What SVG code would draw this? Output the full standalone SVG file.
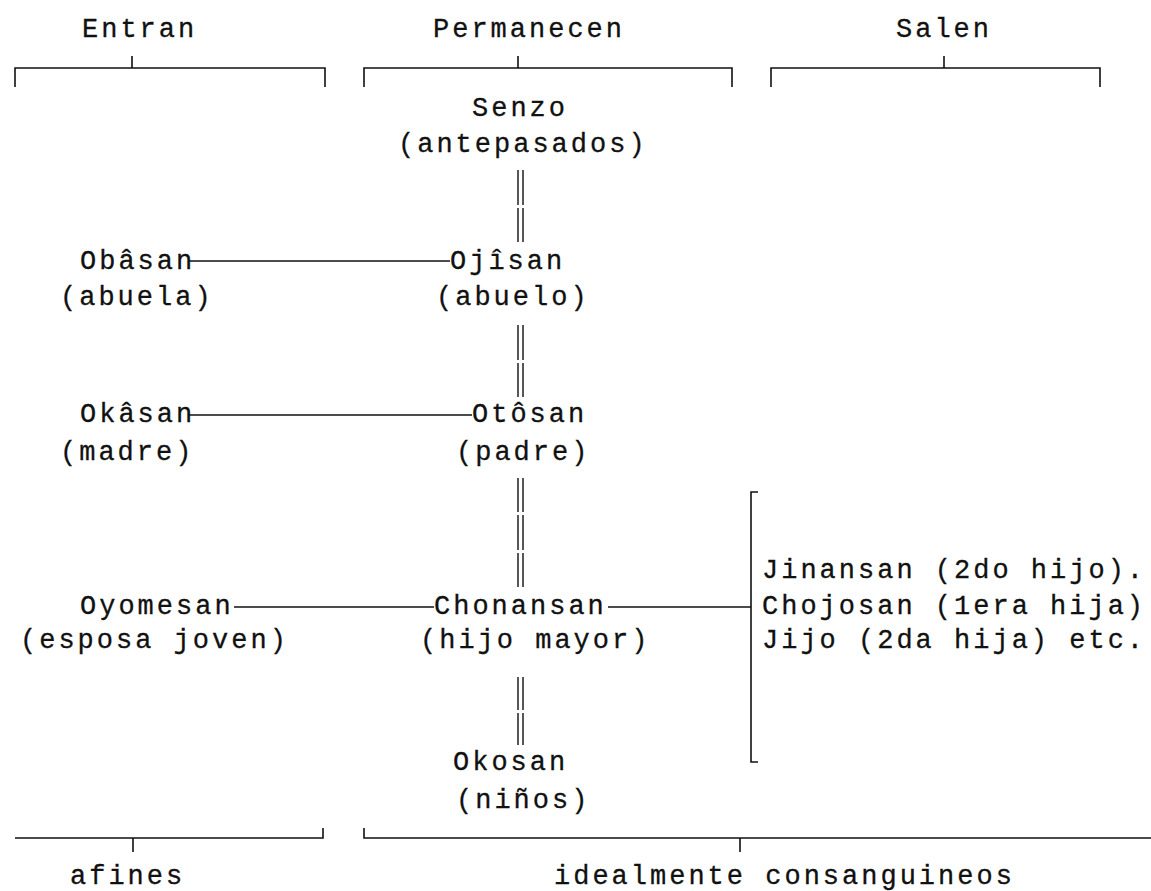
<svg xmlns="http://www.w3.org/2000/svg" width="1151" height="891" viewBox="0 0 1151 891">
  <style>
    text { font-family: "Liberation Mono", "DejaVu Sans Mono", monospace; font-size: 27px; letter-spacing: 3px; fill: #111; stroke: #111; stroke-width: 0.3; }
    .ln { stroke: #111; stroke-width: 1.6; fill: none; }
    .dbl { stroke: #111; stroke-width: 1.4; fill: none; }
  </style>
  <rect width="1151" height="891" fill="#fff"/>

  <!-- column headings with their brackets -->
  <g id="head-entran">
    <text x="82" y="37">Entran</text>
    <path class="ln" d="M15 87 V68 H325 V87 M132 56 V68"/>
  </g>
  <g id="head-permanecen">
    <text x="433" y="37">Permanecen</text>
    <path class="ln" d="M364 87 V68 H732 V87 M518 56 V68"/>
  </g>
  <g id="head-salen">
    <text x="896" y="37">Salen</text>
    <path class="ln" d="M771 87 V68 H1100 V87 M944 56 V68"/>
  </g>

  <!-- line of descent -->
  <g id="senzo">
    <text x="472" y="116">Senzo</text>
    <text x="398" y="152">(antepasados)</text>
  </g>
  <g id="ojisan">
    <text x="450" y="269">Ojîsan</text>
    <text x="436" y="305">(abuelo)</text>
  </g>
  <g id="otosan">
    <text x="472" y="422">Otôsan</text>
    <text x="456" y="460">(padre)</text>
  </g>
  <g id="chonansan">
    <text x="434" y="614">Chonansan</text>
    <text x="420" y="648">(hijo mayor)</text>
  </g>
  <g id="okosan">
    <text x="453" y="770">Okosan</text>
    <text x="456" y="808">(niños)</text>
  </g>

  <!-- in-marrying wives -->
  <g id="obasan">
    <text x="80" y="269">Obâsan</text>
    <text x="60" y="305">(abuela)</text>
  </g>
  <g id="okasan">
    <text x="80" y="422">Okâsan</text>
    <text x="60" y="460">(madre)</text>
  </g>
  <g id="oyomesan">
    <text x="80" y="614">Oyomesan</text>
    <text x="20" y="648">(esposa joven)</text>
  </g>

  <!-- siblings who leave the house -->
  <g id="salen-hijos">
    <text x="762" y="578">Jinansan (2do hijo).</text>
    <text x="762" y="614">Chojosan (1era hija)</text>
    <text x="762" y="648">Jijo (2da hija) etc.</text>
    <path class="ln" d="M758 492 H751 V762 H758"/>
  </g>

  <!-- bottom groupings -->
  <g id="afines">
    <path class="ln" d="M15 838 H323 V828 M133 838 V852"/>
    <text x="70" y="884">afines</text>
  </g>
  <g id="consanguineos">
    <path class="ln" d="M364 828 V838 H1151 M740 838 V852"/>
    <text x="554" y="884">idealmente consanguineos</text>
  </g>

  <!-- connectors: marriage lines and double descent lines -->
  <g id="connectors">
    <path class="ln" d="M188 261 H450"/>
    <path class="ln" d="M188 415 H472"/>
    <path class="ln" d="M234 607 H434"/>
    <path class="ln" d="M608 607 H751"/>
    <path class="dbl" d="M518 170 V205 M523 170 V205 M518 208 V242 M523 208 V242"/>
    <path class="dbl" d="M518 325 V360 M523 325 V360 M518 363 V397 M523 363 V397"/>
    <path class="dbl" d="M518 478 V512 M523 478 V512 M518 515 V550 M523 515 V550 M518 553 V587 M523 553 V587"/>
    <path class="dbl" d="M518 677 V710 M523 677 V710 M518 713 V745 M523 713 V745"/>
  </g>
</svg>
